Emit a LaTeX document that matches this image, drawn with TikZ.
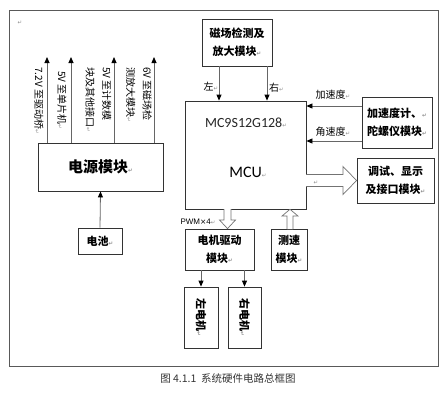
\documentclass[tikz,border=0pt]{standalone}
\usepackage{fontspec}
\setmainfont{Noto Sans CJK SC}
\newfontfamily\latf{Carlito}
\newfontfamily\arsf{Liberation Sans}
\newfontfamily\djvf{DejaVu Sans}
\usetikzlibrary{arrows.meta}
\newcommand{\rt}{{\djvf\fontsize{5.5}{5.5}\selectfont\color{black!45}↵}}
\begin{document}
\begin{tikzpicture}[x=1pt,y=-1pt,
  box/.style={draw=black!80, line width=0.8pt, fill=white, inner sep=0pt, align=center,
    font=\fontsize{11}{18}\selectfont\bfseries},
  arr/.style={draw=black!60, line width=0.8pt, -{Triangle[length=6pt,width=5pt,color=black]}},
  lab/.style={font=\fontsize{10}{12}\selectfont, inner sep=0pt},
  hollow/.style={draw=black!55, line width=0.7pt, fill=white, line join=miter},
  vlab/.style={rotate=-90, anchor=west, align=left, inner sep=0pt,
    font=\fontsize{10}{16.5}\selectfont}
]
\useasboundingbox (0,0) rectangle (447,400);
\draw[black!65, line width=0.8pt] (9,10) rectangle (438,366);

% boxes
\node[box, minimum width=70pt, minimum height=47pt] (mag) at (237,42.5) {磁场检测及\\放大模块\rt};
\node[box, minimum width=121pt, minimum height=108pt] (mcu) at (245.5,155) {};
\node[font=\latf\fontsize{14}{14}\selectfont, text=black!85] (mcuname) at (246,123) {MC9S12G128\rt};
\node[font=\latf\fontsize{16}{16}\selectfont] (mcutxt) at (248,172) {MCU\rt};
\node[box, minimum width=70pt, minimum height=51pt] (acc) at (397,122.5) {加速度计、\rt\\陀螺仪模块\rt};
\node[box, minimum width=77pt, minimum height=45pt] (dbg) at (395.5,180.5) {调试、显示\\及接口模块\rt};
\node[box, minimum width=69pt, minimum height=41pt] (drv) at (219.5,249.5) {电机驱动\\模块\rt};
\node[box, minimum width=36pt, minimum height=41pt] (spd) at (289,249.5) {测速\\模块\rt};
\node[box, minimum width=34pt, minimum height=61pt] (lm) at (201,317.5) {};
\node[box, minimum width=33pt, minimum height=61pt] (rm) at (244.5,317.5) {};
\node[rotate=-90, font=\fontsize{11}{11}\selectfont\bfseries] (lmt) at (lm.center) {左电机\rt};
\node[rotate=-90, font=\fontsize{11}{11}\selectfont\bfseries] (rmt) at (rm.center) {右电机\rt};
\node[box, minimum width=125pt, minimum height=48pt, font=\fontsize{15}{15}\selectfont\bfseries] (pwr) at (100.5,167) {电源模块\rt};
\node[box, minimum width=44pt, minimum height=26pt] (bat) at (100,241) {电池\rt};

% magnetic -> MCU
\draw[arr] ([xshift=-18pt]mag.south) -- ([xshift=-26.5pt]mcu.north);
\draw[arr] ([xshift=30pt]mag.south) -- ([xshift=21.5pt]mcu.north);
\node[lab] (lz) at (211,87) {左\rt};
\node[lab, anchor=west] (ly) at (269,88) {右\rt};

% accel -> MCU
\coordinate (a1) at ([yshift=16.5pt]acc.west);
\coordinate (a2) at ([yshift=-18.5pt]acc.west);
\draw[arr] (a1) -- (a1 -| mcu.east);
\draw[arr] (a2) -- (a2 -| mcu.east);
\node[lab] (la) at (333,95) {加速度\rt};
\node[lab] (lw) at (333,132) {角速度\rt};

% MCU -> debug (hollow)
\draw[hollow] (306,174.5) -- (343,174.5) -- (343,166.5) -- (dbg.west) -- (343,194.5) -- (343,186.5) -- (306,186.5);
\node[inner sep=0pt] (r1) at (316,183) {\rt};

% MCU -> drive (hollow)
\coordinate (d1) at ([xshift=8pt]drv.north);
\draw[hollow] (224,209) -- (224,220) -- (219.5,220) -- (d1) -- (235.5,220) -- (231,220) -- (231,209);
\node[inner sep=0pt, font=\arsf\fontsize{8}{8}\selectfont] (pwm) at (198,222) {PWM{\fontsize{7.5}{7.5}\selectfont\djvf ×}4\rt};

% speed -> MCU (hollow)
\draw[hollow] (287,229) -- (287,216) -- (282,216) -- (290,209.3) -- (298,216) -- (293,216) -- (293,229);

% drive -> motors
\draw[arr] (drv.south -| lm.north) -- (lm.north);
\draw[arr] (drv.south -| rm.north) -- (rm.north);

% battery -> power
\draw[arr] (bat.north) -- (pwr.south);

% power outputs
\coordinate (v1) at (47,57);
\coordinate (v2) at (71,57);
\coordinate (v3) at (114,57);
\coordinate (v4) at (154,57);
\draw[arr] (v1 |- pwr.north) -- (v1);
\draw[arr] (v2 |- pwr.north) -- (v2);
\draw[arr] (v3 |- pwr.north) -- (v3);
\draw[arr] (v4 |- pwr.north) -- (v4);
\node[vlab] (t1) at (39,67) {7.2V 至驱动桥\rt};
\node[vlab] (t2) at (62,71) {5V 至单片机\rt};
\node[vlab] (t3) at (98.5,67) {5V 至计数模\\块及其他接口\rt};
\node[vlab] (t4) at (139,67) {6V 至磁场检\\测放大模块\rt};

\node[inner sep=0pt] (r0) at (20,23) {\rt};

% caption
\node[font=\fontsize{10.5}{11}\selectfont, text=black!80] (cap) at (228,378) {图 4.1.1\ \ 系统硬件电路总框图};
\end{tikzpicture}
\end{document}
